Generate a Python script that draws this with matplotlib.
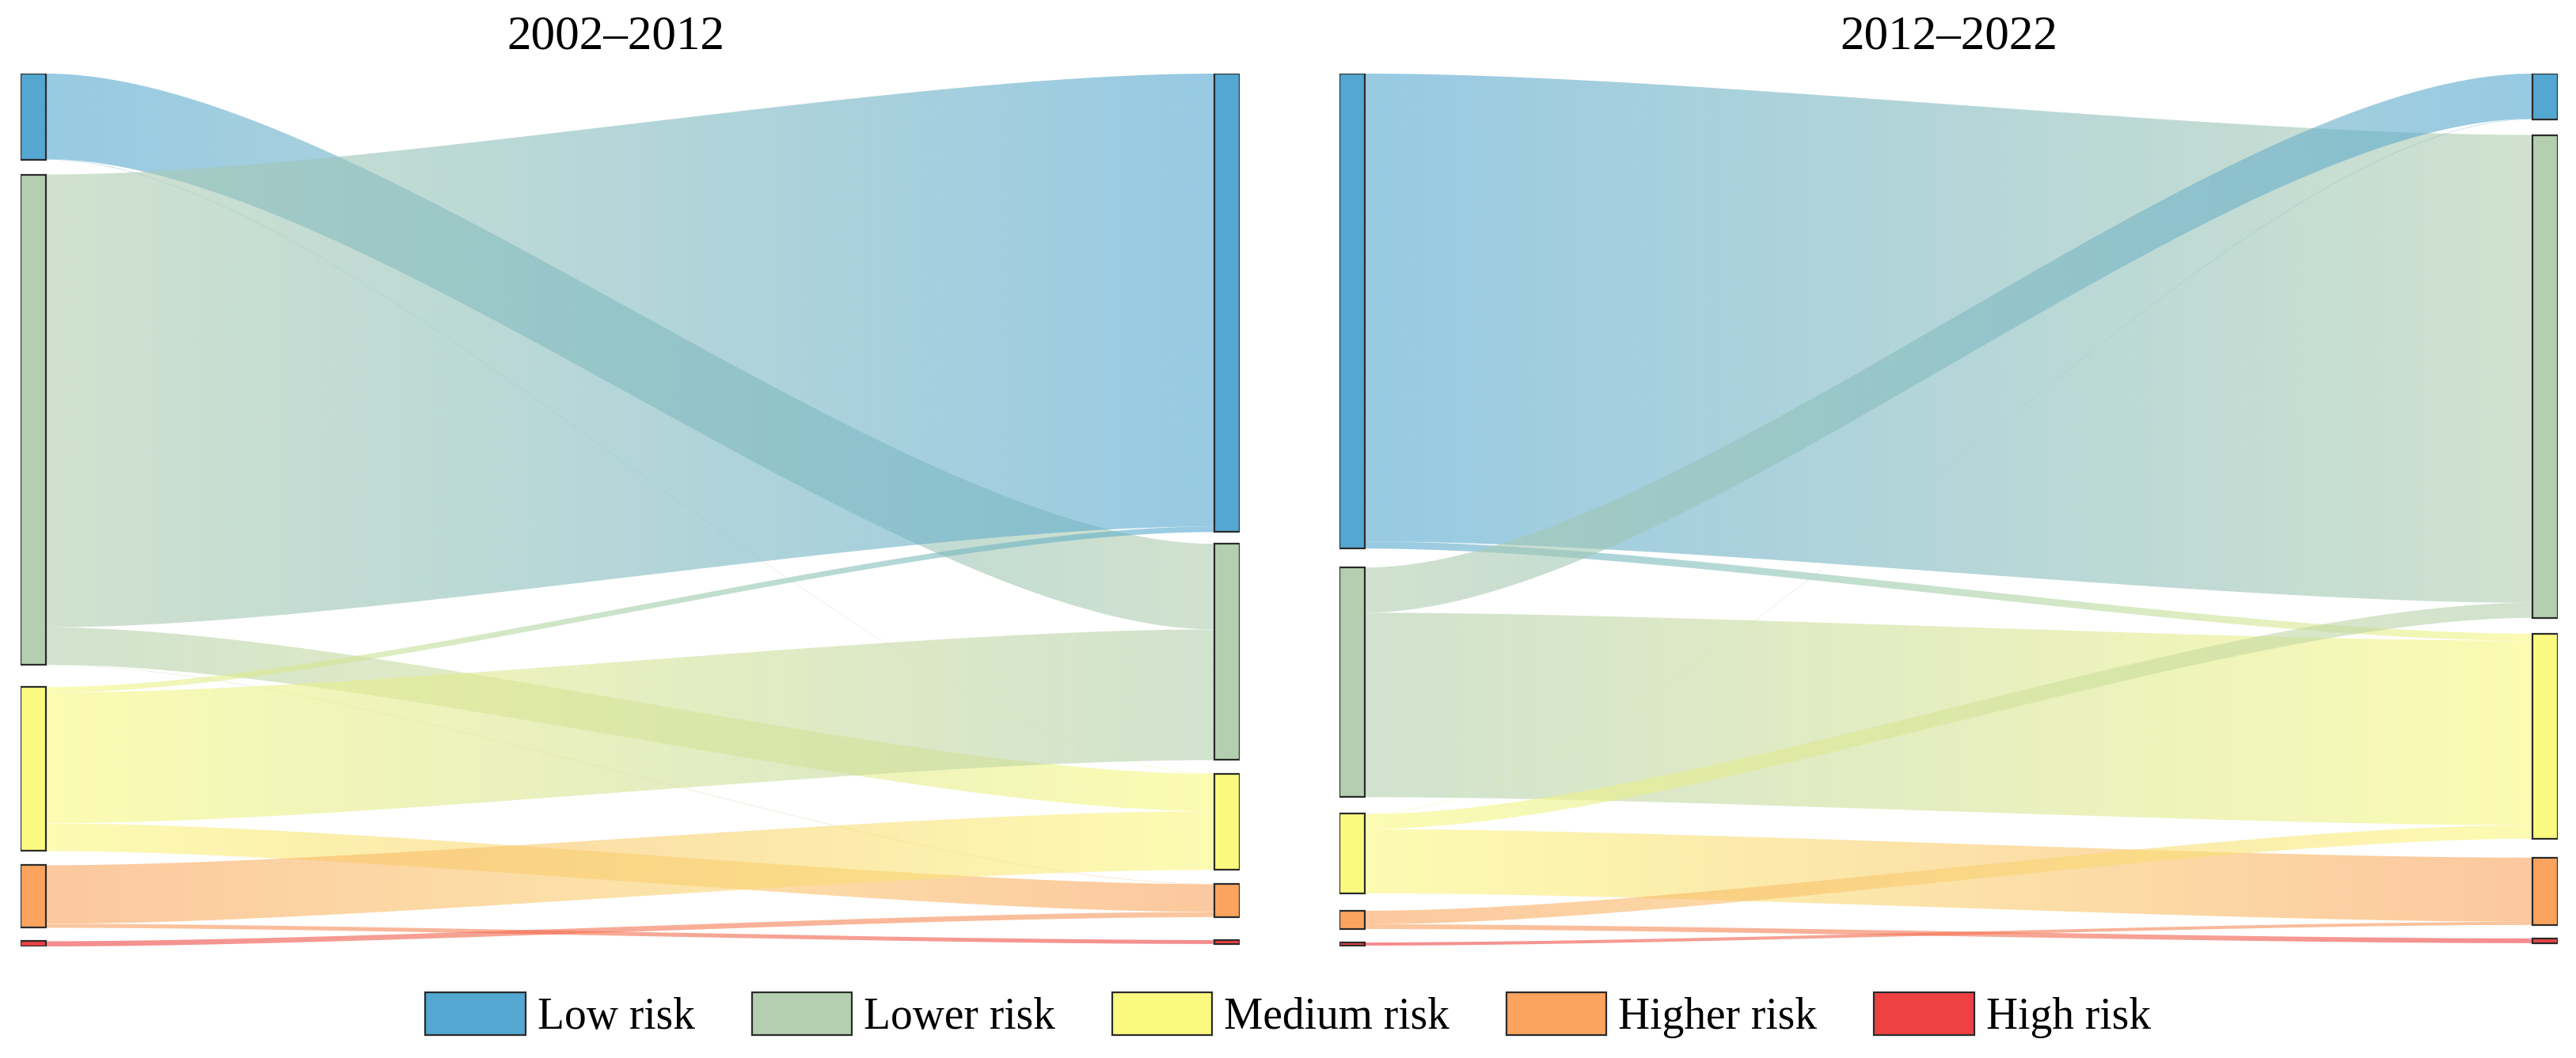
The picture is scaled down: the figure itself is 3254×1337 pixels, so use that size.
import numpy as np
import matplotlib
matplotlib.use('Agg')
import matplotlib.pyplot as plt
from matplotlib.patches import Rectangle, PathPatch, Patch
from matplotlib.path import Path
from matplotlib.colors import to_rgb

plt.rcParams['font.family'] = ['Liberation Serif', 'DejaVu Serif']

CLASSES = ['Low risk', 'Lower risk', 'Medium risk', 'Higher risk', 'High risk']
COLORS = ['#53a7d1', '#b3cfaf', '#fafa80', '#fba45f', '#ee4144']
PERIODS = ['2002–2012', '2012–2022']

# share of area (%) moving from row class (start year) to column class (end year)
FLOW_2002_2012 = [
    [0.00, 10.59, 0.05, 0.00, 0.00],
    [56.08, 0.00, 4.61, 0.04, 0.00],
    [0.69, 16.18, 0.00, 3.43, 0.00],
    [0.00, 0.00, 7.25, 0.00, 0.49],
    [0.00, 0.00, 0.00, 0.64, 0.00],
]
FLOW_2012_2022 = [
    [0.00, 57.94, 0.88, 0.00, 0.00],
    [5.59, 0.00, 22.84, 0.00, 0.00],
    [0.05, 1.86, 0.00, 7.94, 0.00],
    [0.00, 0.00, 1.67, 0.00, 0.59],
    [0.00, 0.00, 0.00, 0.39, 0.00],
]

# layout: padding between nodes (same units as flows), per column
GAPS = [
    ([1.86, 2.75, 1.76, 1.67], [1.47, 1.67, 1.76, 2.84]),
    ([2.35, 2.06, 2.16, 1.67], [1.96, 1.96, 2.35, 1.67]),
]
TITLE_X = [0.488, 0.5]
ALPHA = 0.6
NODE_W = 32 / 1540
CURV = 0.27


def stack(sizes, gaps):
    tops, y = [], 0.0
    for i, s in enumerate(sizes):
        tops.append(y)
        y += s + (gaps[i] if i < len(gaps) else 0)
    return tops, y


def band(ax, x0, x1, y0, y1, h, c0, c1):
    s = np.linspace(0, 1, 200)
    xa = x0 + (x1 - x0) * CURV
    xb = x1 - (x1 - x0) * CURV
    bx = (1 - s) ** 3 * x0 + 3 * (1 - s) ** 2 * s * xa + 3 * (1 - s) * s ** 2 * xb + s ** 3 * x1
    by = (1 - s) ** 3 * y0 + 3 * (1 - s) ** 2 * s * y0 + 3 * (1 - s) * s ** 2 * y1 + s ** 3 * y1
    verts = np.r_[np.c_[bx, by], np.c_[bx[::-1], by[::-1] + h], [[bx[0], by[0]]]]
    patch = PathPatch(Path(verts), fc='none', ec='none')
    ax.add_patch(patch)
    g = np.linspace(0, 1, 256)[None, :, None]
    rgb = (1 - g) * np.array(c0)[None, None, :] + g * np.array(c1)[None, None, :]
    img = np.concatenate([rgb, np.full((1, 256, 1), ALPHA)], axis=2)
    im = ax.imshow(img, extent=[x0, x1, max(y0, y1) + h, min(y0, y1)],
                   aspect='auto', interpolation='bilinear', zorder=1)
    im.set_clip_path(patch)


def sankey(ax, flows, gaps, title, tx, ytot):
    F = np.array(flows)
    left, right = F.sum(axis=1), F.sum(axis=0)
    ltop, _ = stack(left, gaps[0])
    rtop, _ = stack(right, gaps[1])
    cols = [to_rgb(c) for c in COLORS]
    lcur, rcur = list(ltop), list(rtop)
    for i in range(5):
        for j in range(5):
            v = F[i, j]
            if v <= 0:
                continue
            band(ax, NODE_W, 1 - NODE_W, lcur[i], rcur[j], v, cols[i], cols[j])
            lcur[i] += v
            rcur[j] += v
    for k in range(5):
        ax.add_patch(Rectangle((0, ltop[k]), NODE_W, left[k], fc=COLORS[k],
                               ec='#2b2b2b', lw=1.6, zorder=3))
        ax.add_patch(Rectangle((1 - NODE_W, rtop[k]), NODE_W, right[k], fc=COLORS[k],
                               ec='#2b2b2b', lw=1.6, zorder=3))
    ax.set_xlim(0, 1)
    ax.set_ylim(ytot, 0)
    ax.axis('off')
    ax.text(tx, 1 + 32 / 1103, title, transform=ax.transAxes, ha='center',
            va='baseline', fontsize=44)


fig = plt.figure(figsize=(32.54, 13.37), dpi=100)
W, H = 3254, 1337
ax1 = fig.add_axes([26 / W, 141 / H, 1540 / W, 1103 / H])
ax2 = fig.add_axes([1692 / W, 141 / H, 1539 / W, 1103 / H])

tots = []
for fl, gp in zip([FLOW_2002_2012, FLOW_2012_2022], GAPS):
    F = np.array(fl)
    tots.append(stack(F.sum(axis=1), gp[0])[1])
    tots.append(stack(F.sum(axis=0), gp[1])[1])
ytot = max(tots)

sankey(ax1, FLOW_2002_2012, GAPS[0], PERIODS[0], TITLE_X[0], ytot)
sankey(ax2, FLOW_2012_2022, GAPS[1], PERIODS[1], TITLE_X[1], ytot)

handles = [Patch(fc=c, ec='#2b2b2b', lw=1.6, label=l) for c, l in zip(COLORS, CLASSES)]
fig.legend(handles=handles, loc='center', bbox_to_anchor=(0.5, 0.0404), ncol=5,
           frameon=False, fontsize=40, handlelength=2.27, handleheight=1.115,
           handletextpad=0.27, columnspacing=1.3)

fig.savefig('out.png', dpi=100)
